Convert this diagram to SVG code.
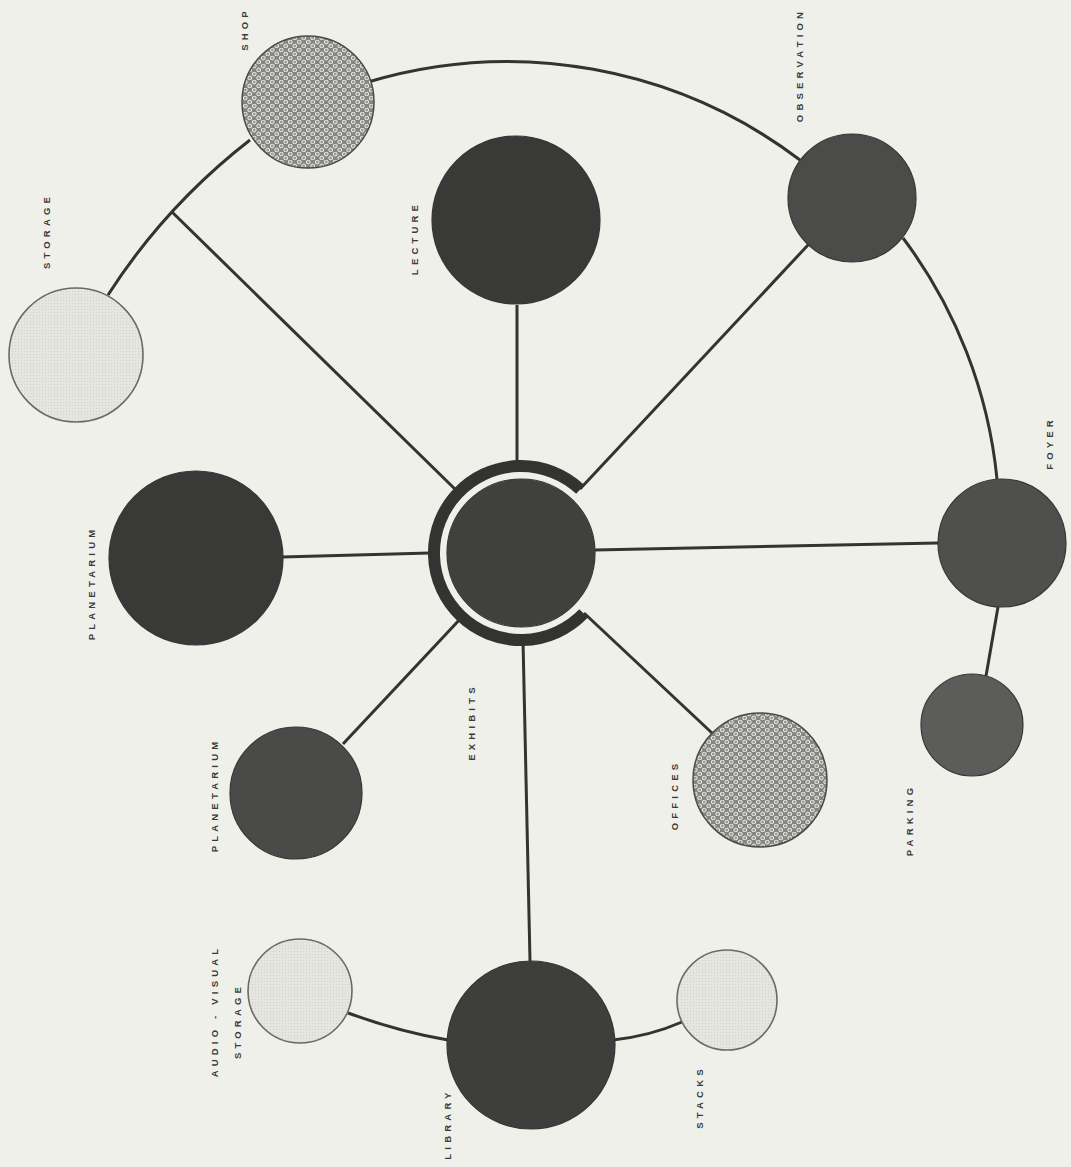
<svg xmlns="http://www.w3.org/2000/svg" width="1071" height="1167" viewBox="0 0 1071 1167">
<defs>
<pattern id="dots" width="9" height="8" patternUnits="userSpaceOnUse">
<rect width="9" height="8" fill="#858581"/>
<circle cx="2.25" cy="2" r="1.9" fill="#9a9a96" stroke="#ececE7" stroke-width="1"/>
<circle cx="6.75" cy="6" r="1.9" fill="#9a9a96" stroke="#ececE7" stroke-width="1"/>
</pattern>
<pattern id="stip" width="3" height="3" patternUnits="userSpaceOnUse">
<rect width="3" height="3" fill="#e6e6e1"/>
<rect width="1" height="1" fill="#d2d2cd"/>
</pattern>
</defs>
<style>
.ln{fill:none;stroke:#333331;stroke-width:3;stroke-linecap:butt}
.dark{stroke:#363634;stroke-width:1.2}
.light{fill:url(#stip);stroke:#6a6a67;stroke-width:1.6}
.pat{fill:url(#dots);stroke:#4a4a47;stroke-width:1.5}
.lbl{font-family:"Liberation Sans",Arial,sans-serif;font-weight:bold;font-size:9.5px;letter-spacing:4.2px;fill:#3a3a38;text-anchor:middle}
</style>
<rect width="1071" height="1167" fill="#f0f0eb"/>
<g id="connectors">
<path class="ln" d="M108 295 Q165 206 250 140"/>
<path class="ln" d="M368 82 A485 485 0 0 1 800 160"/>
<path class="ln" d="M903 238 A480 480 0 0 1 997 479"/>
<path class="ln" d="M998 607 L986 676"/>
<path class="ln" d="M459 493 L172 212"/>
<path class="ln" d="M517 305 L517 466"/>
<path class="ln" d="M580 489 L808 245"/>
<path class="ln" d="M282 557 L430 553"/>
<path class="ln" d="M595 550 L938 543"/>
<path class="ln" d="M462 617 L343 744"/>
<path class="ln" d="M584 613 L712 733"/>
<path class="ln" d="M523 640 L530 961"/>
<path class="ln" d="M348 1013 Q400 1032 448 1040"/>
<path class="ln" d="M613 1040 Q650 1036 682 1022"/>
</g>
<g id="shop"><circle class="pat" cx="308" cy="102" r="66"/><text class="lbl" transform="translate(245,29) rotate(-90)" dy="3.4">SHOP</text></g>
<g id="observation"><circle class="dark" cx="852" cy="198" r="64" fill="#4b4b49"/><text class="lbl" transform="translate(800,65) rotate(-90)" dy="3.4">OBSERVATION</text></g>
<g id="lecture"><circle class="dark" cx="516" cy="220" r="84" fill="#393937"/><text class="lbl" transform="translate(415,238) rotate(-90)" dy="3.4">LECTURE</text></g>
<g id="storage"><circle class="light" cx="76" cy="355" r="67"/><text class="lbl" transform="translate(47,231) rotate(-90)" dy="3.4">STORAGE</text></g>
<g id="planetarium-main"><circle class="dark" cx="196" cy="558" r="87" fill="#393937"/><text class="lbl" transform="translate(92,583) rotate(-90)" dy="3.4">PLANETARIUM</text></g>
<g id="exhibits">
<path d="M583.6 613.4 A87 87 0 1 1 580.3 489.4" fill="none" stroke="#333331" stroke-width="12"/>
<circle class="dark" cx="521" cy="553" r="74" fill="#40403e"/>
<text class="lbl" transform="translate(472,722) rotate(-90)" dy="3.4">EXHIBITS</text></g>
<g id="foyer"><circle class="dark" cx="1002" cy="543" r="64" fill="#4f4f4d"/><text class="lbl" transform="translate(1050,443) rotate(-90)" dy="3.4">FOYER</text></g>
<g id="parking"><circle class="dark" cx="972" cy="725" r="51" fill="#5c5c5a"/><text class="lbl" transform="translate(910,820) rotate(-90)" dy="3.4">PARKING</text></g>
<g id="planetarium-small"><circle class="dark" cx="296" cy="793" r="66" fill="#4a4a48"/><text class="lbl" transform="translate(215,795) rotate(-90)" dy="3.4">PLANETARIUM</text></g>
<g id="offices"><circle class="pat" cx="760" cy="780" r="67"/><text class="lbl" transform="translate(675,795) rotate(-90)" dy="3.4">OFFICES</text></g>
<g id="av-storage"><circle class="light" cx="300" cy="991" r="52"/><text class="lbl" transform="translate(215,1011) rotate(-90)" dy="3.4">AUDIO - VISUAL</text><text class="lbl" transform="translate(238,1021) rotate(-90)" dy="3.4">STORAGE</text></g>
<g id="library"><circle class="dark" cx="531" cy="1045" r="84" fill="#3e3e3c"/><text class="lbl" transform="translate(448,1124) rotate(-90)" dy="3.4">LIBRARY</text></g>
<g id="stacks"><circle class="light" cx="727" cy="1000" r="50"/><text class="lbl" transform="translate(700,1097) rotate(-90)" dy="3.4">STACKS</text></g>
</svg>
